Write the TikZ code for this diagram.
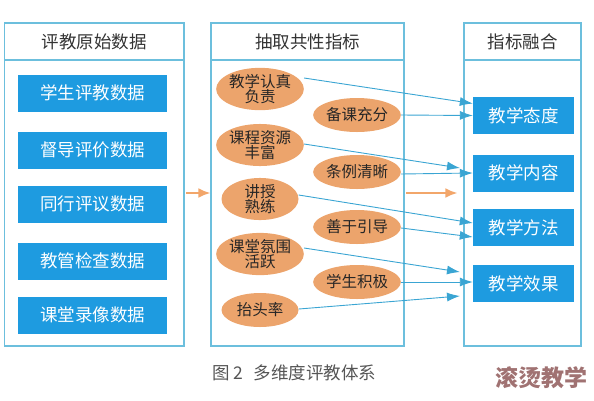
\documentclass[tikz,border=0pt]{standalone}
\usepackage{fontspec}
\newfontfamily\cjk{Noto Sans CJK SC}
\usetikzlibrary{arrows.meta,shapes.geometric}
\definecolor{pnl}{HTML}{6CBFDD}
\definecolor{bbox}{HTML}{1E9BE0}
\definecolor{ell}{HTML}{ECA46C}
\definecolor{lnk}{HTML}{3AA5D3}
\definecolor{orng}{HTML}{F2A66A}
\definecolor{hdr}{HTML}{333333}
\definecolor{cap}{HTML}{555555}
\definecolor{wmk}{HTML}{A07272}
\begin{document}
\begin{tikzpicture}[x=1pt,y=-1pt,
 panel/.style={draw=pnl,line width=1.2pt,inner sep=0},
 hdrtext/.style={font=\cjk\fontsize{17.5}{20}\selectfont,text=hdr,inner sep=0},
 bluebox/.style={fill=bbox,text=white,minimum height=37pt,inner sep=0,font=\cjk\fontsize{17.5}{20}\selectfont},
 oval/.style={ellipse,fill=ell,minimum width=77pt,minimum height=34pt,inner sep=0,align=center,font=\cjk\fontsize{15.5}{15.5}\selectfont,text=black!85},
 link/.style={draw=lnk,line width=0.9pt,-{Latex[length=13pt,width=9pt]}},
 oarrow/.style={draw=orng,line width=2.2pt,-{Latex[length=12pt,width=10pt]}}]
\useasboundingbox (0,0) rectangle (594,400);

% panels
\node[panel,minimum width=179.5pt,minimum height=323pt] (lp) at (94.25,184.5) {};
\node[panel,minimum width=193pt,minimum height=323pt] (mp) at (307.5,184.5) {};
\node[panel,minimum width=117pt,minimum height=323pt] (rp) at (522.5,184.5) {};
\draw[draw=pnl,line width=1.2pt] (lp.west |- 0,60) -- (lp.east |- 0,60);
\draw[draw=pnl,line width=1.2pt] (mp.west |- 0,60) -- (mp.east |- 0,60);
\draw[draw=pnl,line width=1.2pt] (rp.west |- 0,60) -- (rp.east |- 0,60);
\node[hdrtext] (lh) at (94,42) {评教原始数据};
\node[hdrtext] (mh) at (307.5,42) {抽取共性指标};
\node[hdrtext] (rh) at (522.5,42) {指标融合};

% left boxes
\node[bluebox,minimum width=149pt] (a1) at (92.5,93) {学生评教数据};
\node[bluebox,minimum width=149pt] (a2) at (92.5,150) {督导评价数据};
\node[bluebox,minimum width=149pt] (a3) at (92.5,204) {同行评议数据};
\node[bluebox,minimum width=149pt] (a4) at (92.5,261) {教管检查数据};
\node[bluebox,minimum width=149pt] (a5) at (92.5,315) {课堂录像数据};

% right boxes
\node[bluebox,minimum width=101pt] (b1) at (523.5,115.5) {教学态度};
\node[bluebox,minimum width=101pt] (b2) at (523.5,173) {教学内容};
\node[bluebox,minimum width=101pt] (b3) at (523.5,227.5) {教学方法};
\node[bluebox,minimum width=101pt] (b4) at (523.5,283.5) {教学效果};

% ovals
\node[oval] (e1) at (260,89) {教学认真\\负责};
\node[oval] (e2) at (260,145) {课程资源\\丰富};
\node[oval] (e3) at (260,199) {讲授\\熟练};
\node[oval] (e4) at (260,254) {课堂氛围\\活跃};
\node[oval] (e5) at (260,310) {抬头率};
\node[oval] (r1) at (357,115) {备课充分};
\node[oval] (r2) at (357,172) {条例清晰};
\node[oval] (r3) at (357,227) {善于引导};
\node[oval] (r4) at (357,282) {学生积极};

% free ends
\coordinate (t2) at (460,168);
\coordinate (t4) at (460,272);
\coordinate (t5) at (460,296);

% links
\draw[link] ([yshift=11pt]e1.east) -- ([yshift=12pt]b1.west);
\draw[link] (r1.east) -- (b1.west);
\draw[link] ([yshift=1pt]e2.east) -- (t2);
\draw[link] ([yshift=-2pt]r2.east) -- (b2.west);
\draw[link] ([yshift=4pt]e3.east) -- ([yshift=4.5pt]b3.west);
\draw[link] ([yshift=-1pt]r3.east) -- ([yshift=-9.5pt]b3.west);
\draw[link] ([yshift=6pt]e4.east) -- (t4);
\draw[link] (r4.east) -- ([yshift=1.5pt]b4.west);
\draw[link] ([yshift=1pt]e5.east) -- (t5);

% orange arrows
\draw[oarrow] ([xshift=1.5pt]lp.east |- 0,193) -- (mp.west |- 0,193);
\draw[oarrow] ([xshift=1.5pt]mp.east |- 0,193) -- ([xshift=-6pt]rp.west |- 0,193);

% caption and watermark
\node[anchor=west,inner sep=0,font=\cjk\fontsize{17.5}{20}\selectfont,text=cap] (cp) at (212,373) {图 2\hspace{0.6em}多维度评教体系};
\node[inner sep=0,font=\cjk\bfseries\fontsize{23}{26}\selectfont,text=wmk] (wm) at (541,378) {滚烫教学};
\end{tikzpicture}
\end{document}
